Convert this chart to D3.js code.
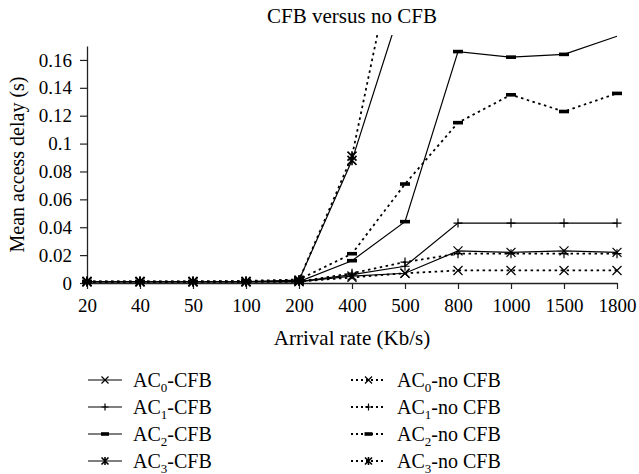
<!DOCTYPE html>
<html lang="en">
<head>
<meta charset="UTF-8">
<title>CFB versus no CFB</title>
<script src="https://cdnjs.cloudflare.com/ajax/libs/d3/7.8.5/d3.min.js"></script>
<style>
    * { margin: 0; padding: 0; }
    body { background: #fff; }
</style>
</head>
<body>
<svg id="chart" width="639" height="474"></svg>
<script>
    // x categories (Kb/s)
    const arrivalRates = ['20', '40', '50', '100', '200', '400', '500', '800', '1000', '1500', '1800'];
    const yTicks = [0, 0.02, 0.04, 0.06, 0.08, 0.1, 0.12, 0.14, 0.16];

    // mean access delay (s); null = off the chart
    const ac0Cfb   = [0.001, 0.001, 0.001, 0.001, 0.001, 0.005, 0.007, 0.023, 0.022, 0.023, 0.022];
    const ac1Cfb   = [0.001, 0.001, 0.001, 0.001, 0.001, 0.006, 0.012, 0.043, 0.043, 0.043, 0.043];
    const ac2Cfb   = [0.001, 0.001, 0.001, 0.001, 0.001, 0.016, 0.044, 0.166, 0.162, 0.164, 0.177];
    const ac3Cfb   = [0.001, 0.001, 0.001, 0.001, 0.002, 0.088, 0.207, null, null, null, null];
    const ac0NoCfb = [0.001, 0.001, 0.001, 0.001, 0.001, 0.004, 0.007, 0.009, 0.009, 0.009, 0.009];
    const ac1NoCfb = [0.001, 0.001, 0.001, 0.001, 0.001, 0.007, 0.015, 0.021, 0.021, 0.021, 0.021];
    const ac2NoCfb = [0.001, 0.001, 0.001, 0.0015, 0.0025, 0.021, 0.071, 0.115, 0.135, 0.123, 0.136];
    const ac3NoCfb = [0.001, 0.001, 0.001, 0.001, 0.002, 0.091, 0.273, null, null, null, null];

    const series = [
        { ac: '0', tail: '-CFB',    values: ac0Cfb,   dotted: false, marker: 'x' },
        { ac: '1', tail: '-CFB',    values: ac1Cfb,   dotted: false, marker: 'plus' },
        { ac: '2', tail: '-CFB',    values: ac2Cfb,   dotted: false, marker: 'bar' },
        { ac: '3', tail: '-CFB',    values: ac3Cfb,   dotted: false, marker: 'star' },
        { ac: '0', tail: '-no CFB', values: ac0NoCfb, dotted: true,  marker: 'x' },
        { ac: '1', tail: '-no CFB', values: ac1NoCfb, dotted: true,  marker: 'plus' },
        { ac: '2', tail: '-no CFB', values: ac2NoCfb, dotted: true,  marker: 'bar' },
        { ac: '3', tail: '-no CFB', values: ac3NoCfb, dotted: true,  marker: 'star' }
    ];

    const FONT = "'Liberation Serif', 'DejaVu Serif', 'Times New Roman', serif";
    const yMax = 0.17;
    const plot = { left: 87, right: 617, top: 46, bottom: 283 };

    const svg = d3.select('#chart')
        .attr('font-family', FONT);

    const x = d3.scalePoint()
        .domain(arrivalRates)
        .range([plot.left, plot.right]);

    const y = d3.scaleLinear()
        .domain([0, yMax])
        .range([plot.bottom, plot.top]);

    // title
    svg.append('text')
        .attr('x', (plot.left + plot.right) / 2)
        .attr('y', 23)
        .attr('text-anchor', 'middle')
        .style('font-family', FONT)
        .style('font-size', '21px')
        .text('CFB versus no CFB');

    // axes
    const xAxis = svg.append('g')
        .attr('transform', `translate(0,${plot.bottom})`)
        .call(d3.axisBottom(x).tickSize(6).tickSizeOuter(0).tickPadding(10));

    const yAxis = svg.append('g')
        .attr('transform', `translate(${plot.left},0)`)
        .call(d3.axisLeft(y).tickValues(yTicks).tickSize(7).tickSizeOuter(0).tickPadding(8)
            .tickFormat(d => String(+d.toFixed(2))));

    [xAxis, yAxis].forEach(a => {
        a.attr('font-family', FONT);
        a.select('.domain').attr('stroke', '#222').attr('stroke-width', 1.3);
        a.selectAll('.tick line').attr('stroke', '#222').attr('stroke-width', 1.2);
        a.selectAll('.tick text')
            .style('font-family', FONT)
            .style('font-size', '19px')
            .attr('fill', '#000');
    });

    // axis titles
    svg.append('text')
        .attr('x', (plot.left + plot.right) / 2)
        .attr('y', 345)
        .attr('text-anchor', 'middle')
        .style('font-family', FONT)
        .style('font-size', '21px')
        .text('Arrival rate (Kb/s)');

    svg.append('text')
        .attr('transform', `translate(24,${(plot.top + plot.bottom) / 2}) rotate(-90)`)
        .attr('text-anchor', 'middle')
        .style('font-family', FONT)
        .style('font-size', '20px')
        .text('Mean access delay (s)');

    // clip for lines running off the top
    svg.append('clipPath')
        .attr('id', 'plotClip')
        .append('rect')
        .attr('x', plot.left - 5)
        .attr('y', plot.top - 11)
        .attr('width', plot.right - plot.left + 10)
        .attr('height', plot.bottom - plot.top + 20);

    function drawMarker(g, type, cx, cy, s) {
        if (type === 'bar') {
            g.append('rect')
                .attr('x', cx - s - 0.5).attr('y', cy - 1.8)
                .attr('width', 2 * s + 1).attr('height', 3.6)
                .attr('fill', '#000');
            return;
        }
        let d = '';
        if (type === 'x' || type === 'star') {
            d += `M${cx - s},${cy - s}L${cx + s},${cy + s}M${cx - s},${cy + s}L${cx + s},${cy - s}`;
        }
        if (type === 'plus') {
            d += `M${cx - s},${cy}L${cx + s},${cy}M${cx},${cy - s}L${cx},${cy + s}`;
        }
        if (type === 'star') {
            d += `M${cx},${cy - s - 0.5}L${cx},${cy + s + 0.5}`;
        }
        g.append('path')
            .attr('d', d)
            .attr('stroke', '#000')
            .attr('stroke-width', type === 'star' ? 1.6 : 1.2)
            .attr('fill', 'none');
    }

    const line = d3.line()
        .defined(d => d.v !== null)
        .x(d => x(d.cat))
        .y(d => y(d.v));

    const linesG = svg.append('g').attr('clip-path', 'url(#plotClip)');
    const markersG = svg.append('g');

    series.forEach(s => {
        const pts = arrivalRates.map((cat, i) => ({ cat, v: s.values[i] }));
        linesG.append('path')
            .datum(pts)
            .attr('d', line)
            .attr('fill', 'none')
            .attr('stroke', '#000')
            .attr('stroke-width', s.dotted ? 1.8 : 1.2)
            .attr('stroke-dasharray', s.dotted ? '2.5,3.5' : null);

        pts.filter(p => p.v !== null && p.v <= yMax).forEach(p => {
            drawMarker(markersG, s.marker, x(p.cat), y(p.v), 4.5);
        });
    });

    // legend: CFB on the left, no CFB on the right
    const legendRows = [380, 407, 434, 461];
    const legendCols = [{ x0: 88, x1: 122, tx: 133 }, { x0: 351, x1: 386, tx: 397 }];

    series.forEach((s, i) => {
        const col = legendCols[s.dotted ? 1 : 0];
        const ry = legendRows[i % 4];
        const g = svg.append('g');

        g.append('line')
            .attr('x1', col.x0).attr('x2', col.x1)
            .attr('y1', ry).attr('y2', ry)
            .attr('stroke', '#000')
            .attr('stroke-width', s.dotted ? 1.8 : 1.2)
            .attr('stroke-dasharray', s.dotted ? '2,3' : null);
        drawMarker(g, s.marker, (col.x0 + col.x1) / 2, ry, 3.5);

        const t = g.append('text')
            .attr('x', col.tx)
            .attr('y', ry + 6.5)
            .style('font-family', FONT)
            .style('font-size', '20px');
        t.append('tspan').text('AC');
        t.append('tspan').attr('dy', 5).style('font-size', '13px').text(s.ac);
        t.append('tspan').attr('dy', -5).text(s.tail);
    });
</script>
</body>
</html>
